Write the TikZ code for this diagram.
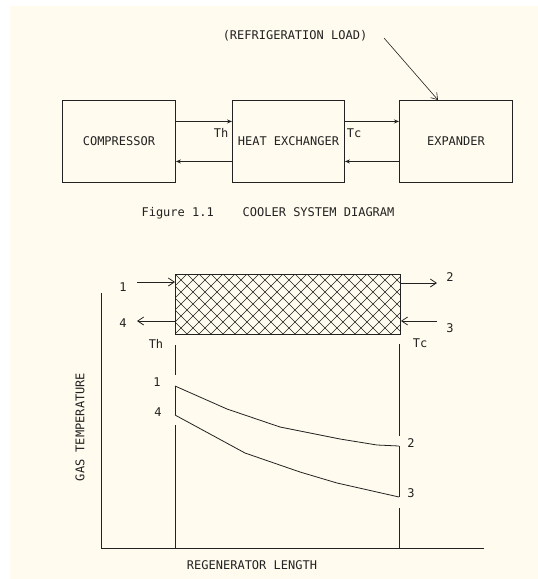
\documentclass[tikz,border=0pt]{standalone}
\usepackage{fontspec}
\newfontfamily\cadfont{DejaVu Sans Mono}
\usetikzlibrary{arrows.meta,calc}
\definecolor{paper}{HTML}{FFFBEE}
\definecolor{ink}{HTML}{222222}
\begin{document}
\begin{tikzpicture}[x=1pt,y=-1pt,
  every node/.style={font=\cadfont\fontsize{12}{14}\selectfont, text=ink, inner sep=0pt},
  unit/.style={draw=ink, line width=0.9pt, minimum width=113pt, minimum height=82pt, anchor=north west},
  link/.style={draw=ink, line width=0.9pt, -{Stealth[length=5pt,width=4pt]}},
  flow/.style={draw=ink, line width=0.8pt, -{Straight Barb[length=6pt,width=8pt]}},
  wire/.style={draw=ink, line width=0.9pt}]
\useasboundingbox (0,0) rectangle (538,579);
\fill[paper] (10,6) rectangle (538,579);

% top system diagram
\node[unit] (comp) at (62,100) {COMPRESSOR};
\node[unit, minimum width=112pt] (hx) at (232,100) {HEAT EXCHANGER};
\node[unit] (exp) at (399,100) {EXPANDER};
\draw[link] ([yshift=20pt]comp.east) -- ([yshift=20pt]hx.west);
\draw[link] ([yshift=-20pt]hx.west) -- ([yshift=-20pt]comp.east);
\draw[link] ([yshift=20pt]hx.east) -- ([yshift=20pt]exp.west);
\draw[link] ([yshift=-20pt]exp.west) -- ([yshift=-20pt]hx.east);
\node (th1) at (221,133) {Th};
\node (tc1) at (354,133) {Tc};
\node (load) at (295,36) {(REFRIGERATION LOAD)};
\coordinate (loadstart) at (384,38);
\draw[flow, line width=0.6pt] (loadstart) -- ([xshift=39pt]exp.north west);
\node (cap) at (268,213) {Figure 1.1\ \ \ \ COOLER SYSTEM DIAGRAM};

% regenerator
\node[draw=ink, line width=0.9pt, minimum width=225pt, minimum height=60pt, anchor=north west] (regen) at (175,274) {};
\begin{scope}
  \clip (regen.north west) rectangle (regen.south east);
  \foreach \k in {-6,...,25} {
    \draw[ink, line width=0.55pt] ({175+12*\k},274) -- ++(60,60);
    \draw[ink, line width=0.55pt] ({175+12*\k},274) -- ++(-60,60);
  }
\end{scope}
\draw[ink, line width=1pt] (regen.north west) rectangle (regen.south east);

\coordinate (in1) at (137,282);
\coordinate (out4) at (137,321);
\coordinate (out2) at (437,283);
\coordinate (in3) at (437,321);
\draw[flow] (in1) -- (in1 -| regen.west);
\draw[flow] (out4 -| regen.west) -- (out4);
\draw[flow] (out2 -| regen.east) -- (out2);
\draw[flow] (in3) -- (in3 -| regen.east);
\node (n1) at (123,287) {1};
\node (n4) at (123,323) {4};
\node (n2) at (450,277) {2};
\node (n3) at (450,328) {3};
\node (th2) at (156,344) {Th};
\node (tc2) at (420,343) {Tc};

% graph
\draw[wire] (101,293) -- (101,548) -- (484,548);
\draw[wire] (175,345) -- (175,375);
\draw[wire] (175,386) -- (175,415);
\draw[wire] (175,425) -- (175,548);
\draw[wire] (399,344) -- (399,436);
\draw[wire] (399,446) -- (399,497);
\draw[wire] (399,508) -- (399,548);
\draw[ink, line width=0.8pt] (175,386) -- (227,409) -- (280,427) -- (340,439) -- (377,445) -- (399,446);
\draw[ink, line width=0.8pt] (175,415) -- (245,453) -- (300,472) -- (337,483) -- (399,497);
\node (g1) at (157,382) {1};
\node (g4) at (158,412) {4};
\node (g2) at (411,443) {2};
\node (g3) at (411,493) {3};
\node[rotate=90] (ylab) at (80,427) {GAS TEMPERATURE};
\node (xlab) at (252,565) {REGENERATOR LENGTH};
\end{tikzpicture}
\end{document}
